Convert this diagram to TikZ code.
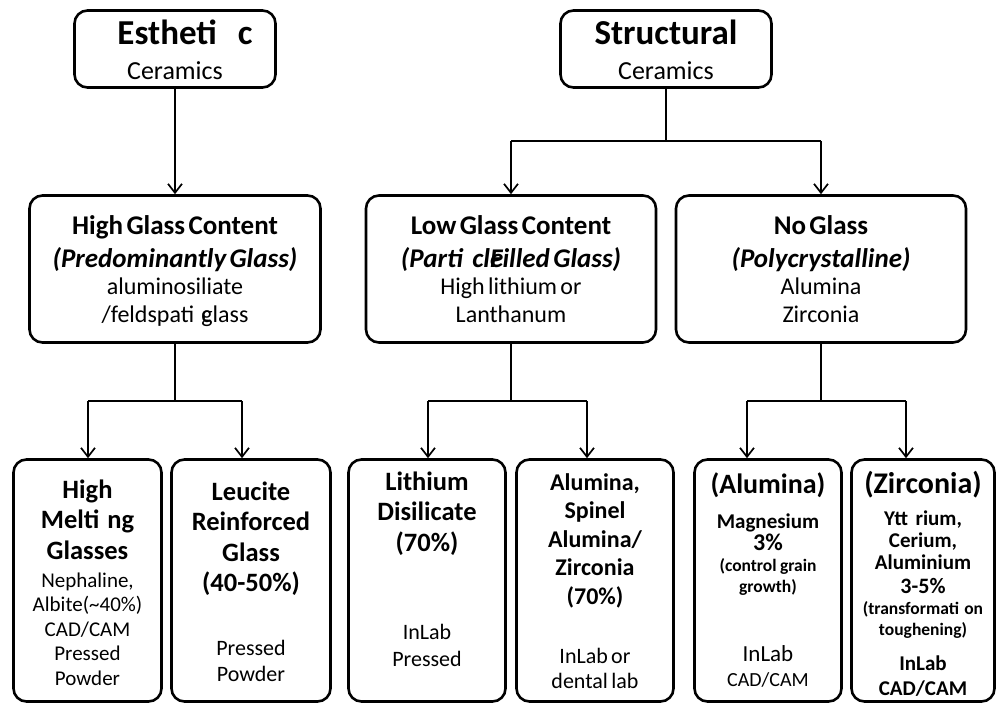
\documentclass[tikz,border=0pt]{standalone}
\usepackage{fontspec}
\setmainfont{Carlito}
\usetikzlibrary{arrows.meta}

\lineskiplimit=-100pt
% fonts of the three levels
\newcommand\topbf{\fontsize{35}{35}\selectfont\bfseries}
\newcommand\topsub{\fontsize{26}{35}\selectfont}
\newcommand\midbf{\fontsize{27}{33}\selectfont\bfseries}
\newcommand\midrm{\fontsize{24}{28}\selectfont}
\newcommand\lowbf{\fontsize{26.5}{30.5}\selectfont\bfseries}
\newcommand\lowrm{\fontsize{22}{25}\selectfont}
\newcommand\lownote{\fontsize{17.5}{21}\selectfont\bfseries}

\begin{document}
\begin{tikzpicture}[x=1pt,y=1pt,yscale=-1,
  box/.style={draw, line width=2.6pt, rounded corners=13pt, align=center, inner sep=0pt},
  boxsize/.style 2 args={minimum width=#1, text width=#1, minimum height=#2},
  % first baseline sits #1/2 above the centre of the box
  lead/.style={text height=0pt, text depth=#1},
  link/.style={line width=1.7pt},
  arr/.style={link, -{Straight Barb[length=9pt, width=14pt]}}]
\useasboundingbox (0,0) rectangle (997,706);

% Top level
\node[box, boxsize={201}{77}, lead=8pt] (esth) at (175,49)
  {{\topbf \hspace*{20pt}Estheti\hspace{0.6em}c\par}{\topsub Ceramics\par}};
\node[box, boxsize={211}{77}, lead=8pt] (struct) at (666,49)
  {{\topbf Structural\par}{\topsub Ceramics\par}};

% Glass content
\node[box, boxsize={291}{147}, lead=70pt] (high) at (175,269)
  {{\midbf High Glass Content\par}{\midbf\itshape (Predominantly Glass)\par}%
   {\midrm aluminosiliate\\/feldspati\hspace{0.3em}\rlap{c}glass\par}};
\node[box, boxsize={290}{147}, lead=70pt] (low) at (511,269)
  {{\midbf Low Glass Content\par}{\midbf\itshape (Parti\hspace{0.35em}cl\rlap{e}Filled Glass)\par}%
   {\midrm High lithium or\\Lanthanum\par}};
\node[box, boxsize={290}{147}, lead=70pt] (nog) at (821,269)
  {{\midbf No Glass\par}{\midbf\itshape (Polycrystalline)\par}%
   {\midrm Alumina\\Zirconia\par}};

% Materials
\node[box, boxsize={148}{242}, lead=165pt] (hm) at (87.5,580.5)
  {{\lowbf High\\Melti\hspace{0.3em}ng\\Glasses\par}%
   {\fontsize{21}{28}\selectfont Nephaline,\par}{\fontsize{21}{24.5}\selectfont Albite(\textasciitilde40\%)\\CAD/CAM\\Pressed\\Powder\par}};
\node[box, boxsize={159}{242}, lead=161pt] (leu) at (251,580.5)
  {{\lowbf Leucite\\Reinforced\\Glass\\(40-50\%)\par}\vspace{38pt}%
   {\fontsize{22}{26}\selectfont Pressed\\Powder\par}};
\node[box, boxsize={157}{242}, lead=181pt] (lith) at (427,580.5)
  {{\lowbf Lithium\\Disilicate\\(70\%)\par}\vspace{61pt}%
   {\fontsize{22}{27}\selectfont InLab\\Pressed\par}};
\node[box, boxsize={157}{242}, lead=181pt] (spin) at (595,580.5)
  {{\fontsize{24}{28.5}\selectfont\bfseries Alumina,\\Spinel\\Alumina/\\Zirconia\\(70\%)\par}\vspace{34pt}%
   {\lowrm InLab or\\dental lab\par}};
\node[box, boxsize={147}{242}, lead=175pt] (alum) at (768,580.5)
  {{\fontsize{28}{28}\selectfont\bfseries (Alumina)\par}%
   {\fontsize{21}{35}\selectfont\bfseries Magnesium\par}%
   {\fontsize{24}{22}\selectfont\bfseries 3\%\par}%
   {\lownote (control grain\\growth)\par}\vspace{44pt}%
   {\fontsize{23}{25}\selectfont InLab\par}{\fontsize{20}{25}\selectfont CAD/CAM\par}};
\node[box, boxsize={143}{242}, lead=175pt] (zirc) at (923,580.5)
  {{\fontsize{30}{28}\selectfont\bfseries (Zirconia)\par}\vspace{10pt}%
   {\fontsize{21}{22}\selectfont\bfseries Ytt\hspace{0.35em}rium,\\Cerium,\\Aluminium\par}%
   {\fontsize{22}{24}\selectfont\bfseries 3-5\%\par}%
   {\lownote\makebox[\linewidth]{(transformati\hspace{0.3em}on}\\toughening)\par}\vspace{10pt}%
   {\fontsize{21}{25}\selectfont\bfseries InLab\\CAD/CAM\par}};

% Connectors
\draw[arr] (esth) -- (high);

\coordinate (sJ) at (666,141);
\coordinate (sL) at (511,141);
\coordinate (sR) at (821,141);
\draw[link] (struct) -- (sJ);
\draw[link] (sL) -- (sR);
\draw[arr] (sL) -- (sL |- low.north);
\draw[arr] (sR) -- (sR |- nog.north);

\foreach \up/\ka/\kb/\xa/\xb in {high/hm/leu/88/242, low/lith/spin/428/587, nog/alum/zirc/747/906}{
  \coordinate (\up-j) at (\up.south |- 0,401);
  \coordinate (\ka-t) at (\xa,401);
  \coordinate (\kb-t) at (\xb,401);
  \draw[link] (\up) -- (\up-j);
  \draw[link] (\ka-t) -- (\kb-t);
  \draw[arr] (\ka-t) -- (\ka-t |- \ka.north);
  \draw[arr] (\kb-t) -- (\kb-t |- \kb.north);
}
\end{tikzpicture}
\end{document}
